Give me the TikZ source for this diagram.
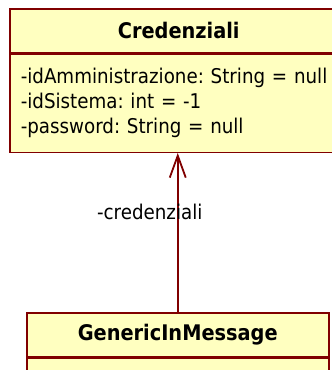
\documentclass[tikz,border=0pt]{standalone}
\usepackage{fontspec}
\setmainfont{DejaVu Sans Condensed}
\usetikzlibrary{arrows.meta}
\definecolor{umlfill}{RGB}{255,255,192}
\definecolor{umlline}{RGB}{128,0,0}
\frenchspacing
\begin{document}
\begin{tikzpicture}[x=1pt,y=-1pt,
  classhead/.style={fill=umlfill,draw=umlline,line width=1.5pt,shape=rectangle,minimum height=44pt,inner sep=0pt,anchor=north west,font=\fontsize{21.5}{25}\selectfont\bfseries},
  classbody/.style={fill=umlfill,draw=umlline,line width=1.5pt,shape=rectangle,inner xsep=11pt,inner ysep=0pt,anchor=north west,align=left,font=\fontsize{20.3}{25}\selectfont},
  assoc/.style={draw=umlline,line width=1.8pt,-{Straight Barb[length=22pt,width=16pt,line width=1.8pt]}}]
\useasboundingbox (0,0) rectangle (332,370);
\node[classhead,minimum width=338pt](CredHead) at (9,8){Credenziali};
\node[classbody,text width=316pt,minimum height=98pt](CredBody) at (CredHead.south west){-idAmministrazione: String = null\\-idSistema: int = -1\\-password: String = null};
\node[classhead,minimum width=302pt](GenHead) at (26,312){GenericInMessage};
\node[classbody,text width=280pt,minimum height=60pt](GenBody) at (GenHead.south west){};
\draw[assoc] (GenHead.north) -- (GenHead.north |- CredBody.south)node[pos=0.63,xshift=-28pt,font=\fontsize{20.3}{25}\selectfont]{-credenziali};
\end{tikzpicture}
\end{document}
